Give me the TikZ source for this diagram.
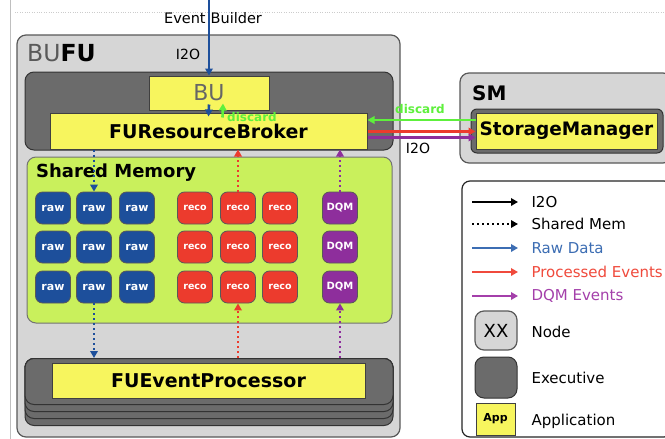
\documentclass[tikz,border=0pt]{standalone}
\usepackage{fontspec}
\setmainfont{DejaVu Sans}
\usetikzlibrary{arrows.meta}
\definecolor{appyellow}{HTML}{F7F55E}
\definecolor{limeg}{HTML}{C9F05C}
\definecolor{rawblue}{HTML}{1D4F9B}
\definecolor{recored}{HTML}{EC3B2D}
\definecolor{dqmpurple}{HTML}{8E2E9C}
\definecolor{discgreen}{HTML}{5EF03C}
\definecolor{legblue}{HTML}{3C6DB3}
\definecolor{legred}{HTML}{F04A3C}
\definecolor{legpurple}{HTML}{A43FAA}
\newcommand{\fs}[1]{\fontsize{#1}{#1}\selectfont}
\begin{document}
\begin{tikzpicture}[x=1pt,y=-1pt,
  nodebox/.style={draw=black!65,line width=1.2pt,fill=black!16,rounded corners=9pt,inner sep=0pt},
  execbox/.style={draw=black!80,line width=1pt,fill=black!58,rounded corners=9pt,inner sep=0pt},
  appbox/.style={draw=black!75,line width=1pt,fill=appyellow,inner sep=0pt,font=\bfseries\fs{19}},
  cell/.style={draw=black!65,line width=0.8pt,rounded corners=7pt,minimum width=35pt,minimum height=32pt,inner sep=0pt,text=white},
  rawc/.style={cell,fill=rawblue,font=\bfseries\fs{11}},
  recoc/.style={cell,fill=recored,font=\bfseries\fs{9.5}},
  dqmc/.style={cell,fill=dqmpurple,font=\bfseries\fs{10}},
  tip/.style={-{Triangle[length=7pt,width=7.5pt]}},
  solidarr/.style={tip,line width=2.6pt},
  dotarr/.style={tip,line width=2.2pt,dash pattern=on 2pt off 3pt},
  legtext/.style={anchor=west,font=\fs{15}},
]
\clip (0,0) rectangle (665,439);
\useasboundingbox (0,0) rectangle (665,439);
\fill[white] (0,0) rectangle (665,439);
% background guide lines
\draw[black!25,line width=0.6pt] (10,0) -- (10,439);
\draw[black!20,dotted] (15,12) -- (665,12);

% BUFU node
\node[nodebox,minimum width=383pt,minimum height=402pt] (bufu) at (208.5,236) {};
\node[anchor=west,font=\fs{23.5},inner sep=0pt] (bufulbl) at (27,53) {\textcolor{black!65}{BU}\textbf{FU}};
\node[font=\fs{14},inner sep=0pt] (i2otop) at (188,54) {I2O};

% executive with BU and FURB
\node[execbox,minimum width=368pt,minimum height=78pt] (exec1) at (209,111) {};
\node[appbox,minimum width=120pt,minimum height=34pt,font=\fs{22},text=black!60] (BU) at (209,93) {BU};
\node[appbox,minimum width=317pt,minimum height=36pt] (FURB) at (208.5,131) {FUResourceBroker};

% Event builder input
\node[font=\fs{14.5},inner sep=0pt] (eblbl) at (213,18) {Event\hspace{5pt}Builder};
\coordinate (ebtop) at (209,0);
\draw[solidarr,rawblue] (ebtop) -- (BU.north);
\draw[solidarr,rawblue] ([yshift=6pt]BU.south) -- ([yshift=-4pt]FURB.north);
\draw[solidarr,discgreen] ([xshift=14pt,yshift=-5pt]FURB.north) -- ([xshift=14pt,yshift=7pt]BU.south);
\node[anchor=west,text=discgreen,font=\bfseries\fs{12},inner sep=0pt] (disc1) at (227,117) {discard};

% SM node
\node[nodebox,minimum width=212pt,minimum height=90pt] (smbox) at (566,118) {};
\node[anchor=west,font=\bfseries\fs{20},inner sep=0pt] (smlbl) at (472,93) {SM};
\node[execbox,minimum width=192pt,minimum height=44pt,rounded corners=6pt] (smexec) at (567,131) {};
\node[appbox,minimum width=181pt,minimum height=36pt,font=\bfseries\fs{18.5}] (SMgr) at (566.5,131) {StorageManager};

% FURB <-> SM arrows
\draw[solidarr,discgreen] ([yshift=11pt]SMgr.west) -- ([yshift=11pt]FURB.east);
\node[text=discgreen,font=\bfseries\fs{12},inner sep=0pt] (disc2) at (420,109) {discard};
\draw[solidarr,recored] ([yshift=-0.5pt]FURB.east) -- ([yshift=-0.5pt]SMgr.west);
\draw[solidarr,dqmpurple] ([yshift=-6.5pt]FURB.east) -- ([yshift=-6.5pt]SMgr.west);
\node[font=\fs{14},inner sep=0pt] (i2osm) at (418,148) {I2O};

% Shared memory
\node[draw=black!55,line width=1pt,fill=limeg,rounded corners=9pt,minimum width=365pt,minimum height=166pt,inner sep=0pt] (shm) at (209.5,240) {};
\node[anchor=west,font=\bfseries\fs{18},inner sep=0pt] (shmlbl) at (36,173) {Shared Memory};

\foreach \r/\y in {1/208,2/247,3/287}{
  \foreach \c/\x in {1/53,2/94,3/137}{
    \node[rawc] (raw\r\c) at (\x,\y) {raw};
  }
  \foreach \c/\x in {1/195,2/238,3/280}{
    \node[recoc] (reco\r\c) at (\x,\y) {reco};
  }
  \node[dqmc] (dqm\r) at (340,\y) {DQM};
}

% FU event processor stack
\foreach \b/\n in {425/4,418/3,411/2}{
  \node[execbox,minimum width=368pt,minimum height=\b-358,anchor=north] (fulayer\n) at (209,358) {};
}
\node[execbox,minimum width=368pt,minimum height=46pt,anchor=north] (fuexec) at (209,358) {};
\node[appbox,minimum width=313pt,minimum height=35pt] (FUEP) at (208.5,380.5) {FUEventProcessor};

% shared memory arrows
\draw[dotarr,rawblue] (raw12.north |- FURB.south) -- (raw12.north);
\draw[dotarr,rawblue] (raw32.south) -- (raw32.south |- fuexec.north);
\draw[dotarr,recored] (reco12.north) -- (reco12.north |- FURB.south);
\draw[dotarr,recored] (reco32.south |- fuexec.north) -- (reco32.south);
\draw[dotarr,dqmpurple] (dqm1.north) -- (dqm1.north |- FURB.south);
\draw[dotarr,dqmpurple] (dqm3.south |- fuexec.north) -- (dqm3.south);

% Legend
\node[draw=black!85,line width=1.2pt,fill=white,rounded corners=8pt,minimum width=210pt,minimum height=256pt,inner sep=0pt] (legend) at (567,309) {};
\foreach \i/\y in {1/202,2/224,3/248,4/272,5/296}{
  \coordinate (la\i) at (472,\y);
  \coordinate (lb\i) at (518,\y);
}
\draw[solidarr,black,line width=1.8pt] (la1) -- (lb1);
\draw[dotarr,black,line width=1.5pt] (la2) -- (lb2);
\draw[solidarr,legblue,line width=1.8pt] (la3) -- (lb3);
\draw[solidarr,legred,line width=1.8pt] (la4) -- (lb4);
\draw[solidarr,legpurple,line width=1.8pt] (la5) -- (lb5);
\node[legtext] (t1) at (528,202) {I2O};
\node[legtext] (t2) at (528,224) {Shared Mem};
\node[legtext,text=legblue] (t3) at (528,248) {Raw Data};
\node[legtext,text=legred] (t4) at (528,272) {Processed Events};
\node[legtext,text=legpurple] (t5) at (528,296) {DQM Events};
\node[nodebox,minimum width=42pt,minimum height=39pt,font=\fs{18}] (lnode) at (496,330.5) {XX};
\node[legtext] (t6) at (528,332) {Node};
\node[execbox,minimum width=42pt,minimum height=41pt] (lexec) at (496,377.5) {};
\node[legtext] (t7) at (528,378) {Executive};
\node[appbox,minimum width=39pt,minimum height=32pt,font=\bfseries\fs{11}] (lapp) at (495.5,419) {App};
\node[legtext] (t8) at (528,421) {Application};
\end{tikzpicture}
\end{document}
